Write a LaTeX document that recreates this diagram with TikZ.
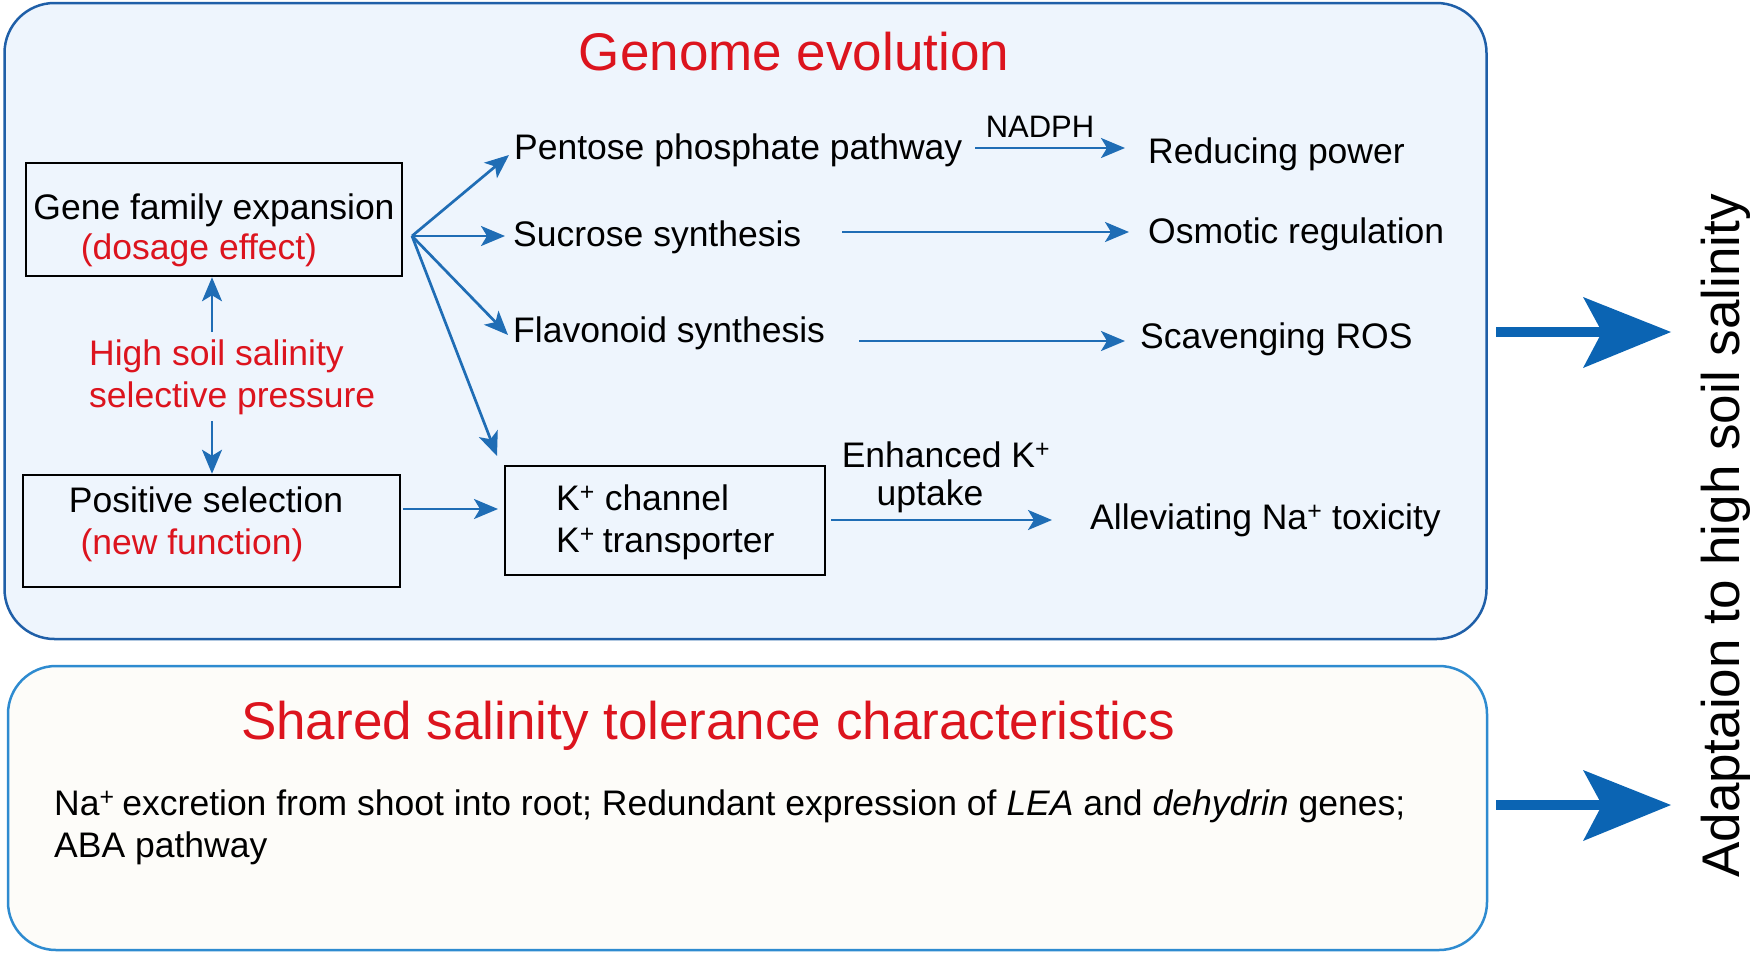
\documentclass[tikz,border=0pt]{standalone}
\usepackage{fontspec}
\setmainfont{Liberation Sans}
\usetikzlibrary{arrows.meta}
\definecolor{topfill}{HTML}{EEF5FD}
\definecolor{topline}{HTML}{1F5FA8}
\definecolor{botfill}{HTML}{FDFCF9}
\definecolor{botline}{HTML}{2E8BD0}
\definecolor{arr}{HTML}{1F6DB5}
\definecolor{bigarr}{HTML}{0B64B3}
\definecolor{redt}{HTML}{DC141E}
\begin{document}
\begin{tikzpicture}[x=1pt,y=-1pt,
  txt/.style={inner sep=0pt, anchor=base west, font=\fontsize{35.5}{40}\selectfont},
  ctxt/.style={txt, anchor=base},
  big/.style={inner sep=0pt, anchor=base, font=\fontsize{53}{60}\selectfont},
  blackbox/.style={draw=black, line width=2.5pt, inner sep=0pt, fill=topfill},
  conn/.style={draw=arr, line width=2.7pt, -{Stealth[length=24pt,width=20pt,inset=6pt]}},
  bigshaft/.style={draw=bigarr, line width=10pt},
]
\useasboundingbox (0,0) rectangle (1750,954);

% panels
\node[draw=topline, fill=topfill, line width=2.5pt, rounded corners=50pt,
      minimum width=1482pt, minimum height=636pt, inner sep=0pt] (top) at (745.5,321) {};
\node[draw=botline, fill=botfill, line width=2.5pt, rounded corners=48pt,
      minimum width=1479pt, minimum height=284pt, inner sep=0pt] (bot) at (747.5,808) {};

% titles
\node[big, text=redt] (t1) at (794,70) {Genome evolution};
\node[big, text=redt] (t2) at (708,739) {Shared salinity tolerance characteristics};

% boxes
\node[blackbox, minimum width=376pt, minimum height=113pt] (gene) at (214,219.5) {};
\node[blackbox, minimum width=377pt, minimum height=112pt] (pos) at (211.5,531) {};
\node[blackbox, minimum width=320pt, minimum height=109pt] (kbox) at (665,520.5) {};

\node[ctxt] (genet) at (214,219) {Gene family expansion};
\node[ctxt, text=redt] (dose) at (199,259) {(dosage effect)};
\node[txt, text=redt] (hs1) at (89,365) {High soil salinity};
\node[txt, text=redt] (hs2) at (89,407) {selective pressure};
\node[ctxt] (post) at (206,512) {Positive selection};
\node[ctxt, text=redt] (newf) at (192,554) {(new function)};
\node[txt] (kch) at (556,510) {K\textsuperscript{+} channel};
\node[txt] (ktr) at (556,552) {K\textsuperscript{+}\hspace{-2pt} transporter};

\node[txt] (pent) at (514,159) {Pentose phosphate pathway};
\node[txt] (sucr) at (513,246) {Sucrose synthesis};
\node[txt] (flav) at (513,342) {Flavonoid synthesis};
\node[txt] (redu) at (1148,163) {Reducing power};
\node[txt] (osmo) at (1148,243) {Osmotic regulation};
\node[txt] (scav) at (1140,348) {Scavenging ROS};
\node[txt] (alle) at (1090,529) {Alleviating Na\textsuperscript{+} toxicity};
\node[inner sep=0pt, anchor=base, font=\fontsize{31}{36}\selectfont] (nadph) at (1040,137) {NADPH};
\node[ctxt] (enh) at (946,467) {Enhanced K\textsuperscript{+}};
\node[ctxt] (upt) at (930,505) {uptake};

\node[txt] (b1) at (54,815) {Na\textsuperscript{+}\hspace{-2pt} excretion from shoot into root; Redundant expression of \textit{LEA} and \textit{dehydrin} genes;};
\node[txt] (b2) at (54,857) {ABA pathway};

\node[big, rotate=90] (adapt) at (1739,536) {Adaptaion to high soil salinity};

% connector coordinates
\coordinate (fan) at (412,236);
\coordinate (ePent) at (509,155);
\coordinate (eSucr) at (505,236);
\coordinate (eFlav) at (508,335);
\coordinate (eK) at (497,456);
\coordinate (hsTop) at (212,332);
\coordinate (hsBot) at (212,421);
\coordinate (posE) at (403,509);
\coordinate (kIn) at (498,509);
\coordinate (kOut) at (831,520);
\coordinate (aIn) at (1052,520);
\coordinate (nS) at (975,148);
\coordinate (nE) at (1125,148);
\coordinate (sS) at (842,232);
\coordinate (sE) at (1129,232);
\coordinate (fS) at (859,341);
\coordinate (fE) at (1125,341);

\draw[conn] (fan) -- (ePent);
\draw[conn] (fan) -- (eSucr);
\draw[conn] (fan) -- (eFlav);
\draw[conn] (fan) -- (eK);
\draw[conn] (hsTop) -- (hsTop |- gene.south);
\draw[conn] (hsBot) -- (hsBot |- pos.north);
\draw[conn] (posE) -- (kIn);
\draw[conn] (kOut) -- (aIn);
\draw[conn] (nS) -- (nE);
\draw[conn] (sS) -- (sE);
\draw[conn] (fS) -- (fE);

% big arrows
\coordinate (b1s) at (1496,332);
\coordinate (b1e) at (1605,332);
\coordinate (b2s) at (1496,805);
\coordinate (b2e) at (1605,805);
\draw[bigshaft] (b1s) -- (b1e);
\fill[bigarr] (1583,297) -- (1671,332) -- (1583,368) -- (1602,332) -- cycle;
\draw[bigshaft] (b2s) -- (b2e);
\fill[bigarr] (1583,770) -- (1671,805) -- (1583,841) -- (1602,805) -- cycle;
\end{tikzpicture}
\end{document}
